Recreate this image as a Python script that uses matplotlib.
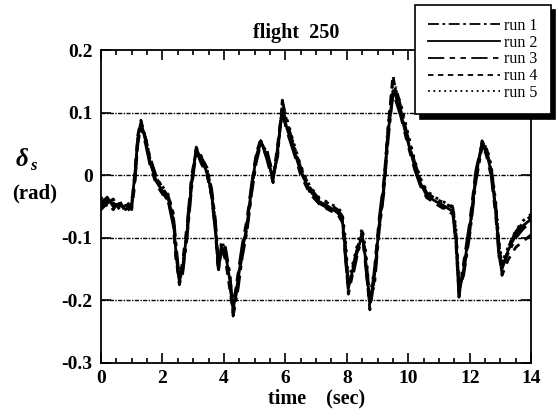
import matplotlib
matplotlib.use("Agg")
import matplotlib.pyplot as plt
from matplotlib.ticker import MultipleLocator

plt.rcParams["font.family"] = ["Liberation Serif", "DejaVu Serif"]

# time base (sec)
time = [0, 0.2, 0.4, 0.6, 0.8, 1.0, 1.1, 1.2, 1.3, 1.45,
        1.6, 1.8, 2.0, 2.2, 2.35, 2.45, 2.55, 2.65, 2.8, 2.95,
        3.1, 3.25, 3.45, 3.6, 3.72, 3.82, 3.92, 4.05, 4.2, 4.3,
        4.45, 4.6, 4.75, 4.9, 5.05, 5.2, 5.4, 5.6, 5.75, 5.9,
        6.05, 6.25, 6.5, 6.8, 7.1, 7.4, 7.7, 7.85, 7.95, 8.05,
        8.2, 8.35, 8.5, 8.6, 8.75, 8.9, 9.05, 9.2, 9.35, 9.5,
        9.6, 9.75, 9.95, 10.2, 10.4, 10.6, 10.9, 11.2, 11.45, 11.55,
        11.65, 11.8, 12.0, 12.2, 12.4, 12.55, 12.7, 12.85, 12.95, 13.05,
        13.25, 13.5, 13.75, 14.0]

# delta_s (rad) for each run
run1 = [-0.040, -0.045, -0.038, -0.055, -0.048, -0.050, -0.010, 0.050, 0.080, 0.060,
        0.028, -0.002, -0.020, -0.035, -0.060, -0.115, -0.165, -0.160, -0.100, -0.020,
        0.038, 0.030, 0.012, -0.022, -0.070, -0.140, -0.120, -0.115, -0.160, -0.225,
        -0.185, -0.130, -0.090, -0.030, 0.020, 0.050, 0.040, 0.000, 0.030, 0.120,
        0.085, 0.052, 0.012, -0.020, -0.038, -0.045, -0.055, -0.065, -0.110, -0.175,
        -0.160, -0.125, -0.100, -0.120, -0.200, -0.175, -0.090, -0.030, 0.060, 0.130,
        0.140, 0.110, 0.068, 0.022, -0.008, -0.028, -0.038, -0.045, -0.052, -0.090,
        -0.180, -0.160, -0.095, -0.010, 0.045, 0.042, 0.012, -0.050, -0.110, -0.145,
        -0.125, -0.100, -0.085, -0.075]

run2 = [-0.045, -0.035, -0.050, -0.045, -0.055, -0.045, 0.000, 0.060, 0.085, 0.055,
        0.020, -0.010, -0.025, -0.040, -0.070, -0.130, -0.170, -0.150, -0.090, -0.010,
        0.043, 0.025, 0.005, -0.030, -0.080, -0.150, -0.115, -0.125, -0.170, -0.215,
        -0.170, -0.120, -0.080, -0.020, 0.030, 0.055, 0.030, -0.008, 0.040, 0.105,
        0.075, 0.045, 0.005, -0.025, -0.042, -0.050, -0.060, -0.070, -0.120, -0.180,
        -0.150, -0.120, -0.095, -0.130, -0.205, -0.160, -0.080, -0.020, 0.070, 0.135,
        0.125, 0.100, 0.060, 0.015, -0.013, -0.033, -0.042, -0.050, -0.058, -0.100,
        -0.190, -0.150, -0.085, 0.000, 0.050, 0.035, 0.005, -0.060, -0.120, -0.150,
        -0.120, -0.095, -0.080, -0.070]

run3 = [-0.050, -0.040, -0.045, -0.050, -0.045, -0.055, -0.015, 0.055, 0.075, 0.050,
        0.015, -0.015, -0.030, -0.045, -0.080, -0.140, -0.165, -0.140, -0.080, 0.000,
        0.040, 0.020, 0.000, -0.035, -0.090, -0.155, -0.110, -0.130, -0.180, -0.210,
        -0.160, -0.110, -0.070, -0.015, 0.035, 0.058, 0.025, -0.012, 0.045, 0.100,
        0.070, 0.040, 0.000, -0.030, -0.045, -0.053, -0.062, -0.075, -0.130, -0.185,
        -0.145, -0.115, -0.090, -0.140, -0.210, -0.150, -0.070, -0.010, 0.075, 0.130,
        0.118, 0.095, 0.055, 0.010, -0.018, -0.036, -0.045, -0.053, -0.060, -0.110,
        -0.195, -0.140, -0.075, 0.008, 0.052, 0.030, -0.002, -0.068, -0.130, -0.155,
        -0.115, -0.090, -0.075, -0.065]

run4 = [-0.055, -0.045, -0.055, -0.040, -0.060, -0.050, 0.005, 0.065, 0.088, 0.058,
        0.022, -0.008, -0.028, -0.042, -0.075, -0.135, -0.175, -0.155, -0.095, -0.015,
        0.045, 0.028, 0.003, -0.032, -0.085, -0.150, -0.118, -0.135, -0.185, -0.220,
        -0.175, -0.125, -0.085, -0.025, 0.028, 0.052, 0.028, -0.005, 0.050, 0.110,
        0.078, 0.048, 0.008, -0.028, -0.046, -0.055, -0.063, -0.072, -0.125, -0.190,
        -0.155, -0.118, -0.092, -0.135, -0.215, -0.165, -0.085, -0.025, 0.080, 0.160,
        0.130, 0.105, 0.062, 0.018, -0.015, -0.035, -0.046, -0.055, -0.062, -0.105,
        -0.185, -0.155, -0.090, -0.005, 0.055, 0.040, 0.008, -0.058, -0.125, -0.160,
        -0.135, -0.115, -0.105, -0.095]

run5 = [-0.035, -0.050, -0.045, -0.048, -0.050, -0.040, -0.005, 0.058, 0.082, 0.062,
        0.025, -0.005, -0.018, -0.032, -0.065, -0.120, -0.160, -0.150, -0.085, -0.005,
        0.040, 0.032, 0.010, -0.025, -0.075, -0.145, -0.105, -0.120, -0.165, -0.205,
        -0.165, -0.115, -0.075, -0.018, 0.032, 0.055, 0.035, 0.002, 0.035, 0.115,
        0.090, 0.055, 0.015, -0.018, -0.036, -0.044, -0.052, -0.060, -0.100, -0.170,
        -0.140, -0.110, -0.085, -0.115, -0.195, -0.150, -0.075, -0.015, 0.085, 0.150,
        0.135, 0.115, 0.075, 0.025, -0.005, -0.025, -0.036, -0.044, -0.050, -0.085,
        -0.175, -0.145, -0.080, 0.005, 0.048, 0.045, 0.015, -0.045, -0.105, -0.140,
        -0.115, -0.088, -0.072, -0.062]

runs = [run1, run2, run3, run4, run5]
labels = ["run 1", "run 2", "run 3", "run 4", "run 5"]
styles = [(0, (6, 2, 1.5, 2)), "-", (0, (9, 3, 3, 3, 3, 3)), (0, (3, 2.5)), (0, (1, 2))]

fig = plt.figure(figsize=(5.58, 4.17), dpi=100)
ax = fig.add_axes([0.181, 0.1295, 0.771, 0.7505])

for y, lab, ls in zip(runs, labels, styles):
    ax.plot(time, y, color="black", lw=2.0, linestyle=ls, label=lab)

ax.set_xlim(0, 14)
ax.set_ylim(-0.3, 0.2)
ax.xaxis.set_major_locator(MultipleLocator(2))
ax.xaxis.set_minor_locator(MultipleLocator(0.5))
ax.set_yticks([0.2, 0.1, 0, -0.1, -0.2, -0.3])
ax.set_yticklabels(["0.2", "0.1", "0", "-0.1", "-0.2", "-0.3"])

for yg in [0.1, 0, -0.1, -0.2]:
    ax.axhline(yg, color="black", lw=1.0, linestyle=(0, (3, 1, 1, 1)), zorder=1)

ax.tick_params(which="both", direction="in", top=True, right=True, width=1.2)
ax.tick_params(which="major", length=7)
ax.tick_params(which="minor", length=3.5)
ax.tick_params(axis="x", pad=5, labelsize=14)
ax.tick_params(axis="y", pad=6, labelsize=14)
for lab in ax.get_xticklabels() + ax.get_yticklabels():
    lab.set_fontweight("bold")
for sp in ax.spines.values():
    sp.set_linewidth(1.3)

fig.text(296 / 558, 1 - 38 / 417, "flight  250", ha="center", va="baseline",
         fontsize=14.5, fontweight="bold")
ax.set_xlabel("time    (sec)", fontsize=14.5, fontweight="bold", labelpad=1)
fig.text(22 / 558, 1 - 166 / 417, "δ", ha="center", va="baseline",
         fontsize=18, fontweight="bold", fontstyle="italic")
fig.text(30 / 558, 1 - 170 / 417, "s", ha="left", va="baseline",
         fontsize=12, fontweight="bold", fontstyle="italic")
fig.text(35 / 558, 1 - 198 / 417, "(rad)", ha="center", va="baseline",
         fontsize=15, fontweight="bold")

leg = fig.legend(loc="upper left", bbox_to_anchor=(415 / 558, 1 - 5 / 417),
                 borderaxespad=0, fontsize=11.5, handlelength=4.5,
                 handletextpad=0.3, labelspacing=0.05, borderpad=0.8,
                 fancybox=False, framealpha=1, edgecolor="black",
                 shadow={"ox": 3.5, "oy": -3.5, "color": "black", "alpha": 1})
leg.get_frame().set_linewidth(1.2)
for h in leg.get_lines():
    h.set_linewidth(1.3)

fig.savefig("out.png", dpi=100)
